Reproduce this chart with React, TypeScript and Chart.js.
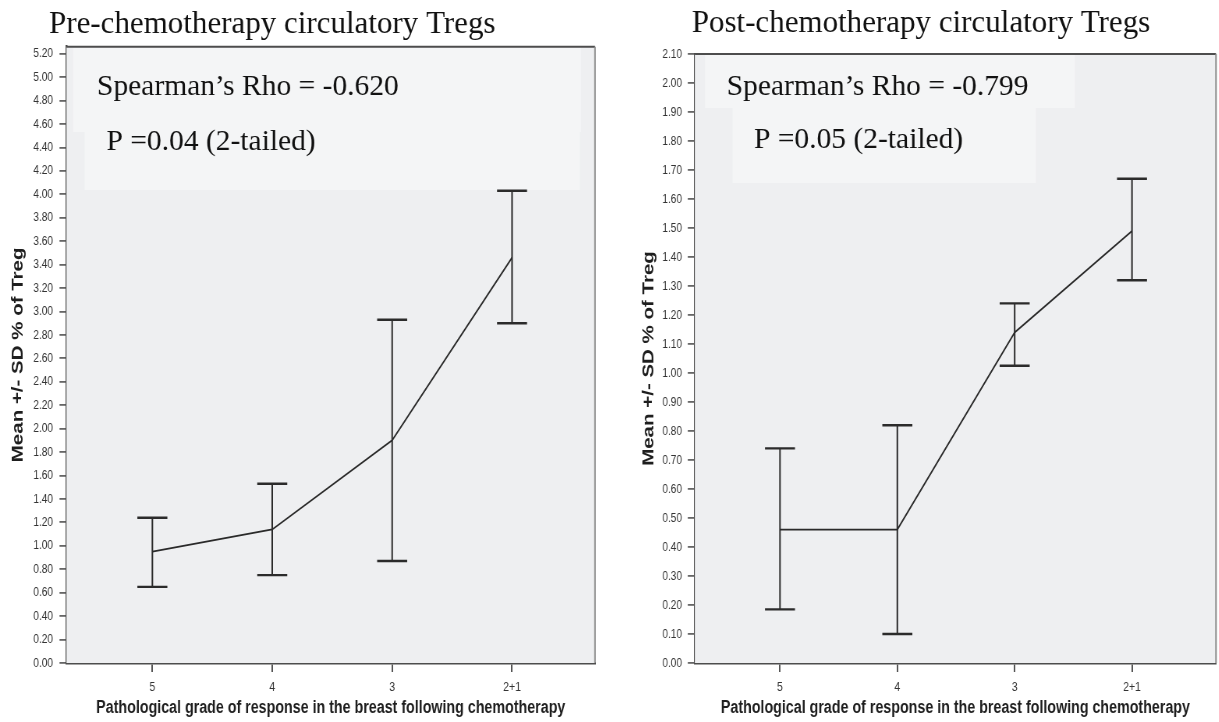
import React, { useEffect, useRef } from "react";
import { Chart, registerables } from "chart.js";

Chart.register(...registerables);

// ---------- data ----------
const categories = ["5", "4", "3", "2+1"];

const preMean = [0.95, 1.14, 1.9, 3.46];
const preUpper = [1.24, 1.53, 2.93, 4.03];
const preLower = [0.65, 0.75, 0.87, 2.9];

const postMean = [0.46, 0.46, 1.14, 1.49];
const postUpper = [0.74, 0.82, 1.24, 1.67];
const postLower = [0.185, 0.1, 1.025, 1.32];

const preTitle = "Pre-chemotherapy circulatory Tregs";
const postTitle = "Post-chemotherapy circulatory Tregs";
const preRho = "Spearman\u2019s Rho = -0.620";
const preP = "P =0.04 (2-tailed)";
const postRho = "Spearman\u2019s Rho = -0.799";
const postP = "P =0.05 (2-tailed)";
const yTitle = "Mean +/- SD % of Treg";
const xTitle = "Pathological grade of response in the breast following chemotherapy";

// ---------- layout ----------
const S = 0.78; // horizontal squeeze of the original plots
const H = 722;
const SANS = "'Liberation Sans', Arial, sans-serif";
const SERIF = "'Liberation Serif', 'Times New Roman', serif";

type Box = { x1: number; y1: number; x2: number; y2: number };
type Note = { text: string; x: number; y: number; size: number };

interface PanelCfg {
  pageLeft: number;
  widthInt: number;
  areaLeftPage: number;
  areaRightPage: number;
  areaTop: number;
  yMax: number;
  yStep: number;
  xMin: number;
  xMax: number;
  yTickPad: number;
  yTitlePad: number;
  mean: number[];
  upper: number[];
  lower: number[];
  notes: Note[];
  boxes: Box[];
}

const leftCfg: PanelCfg = {
  pageLeft: 0,
  widthInt: 770,
  areaLeftPage: 66.5,
  areaRightPage: 595,
  areaTop: 46.7,
  yMax: 5.26,
  yStep: 0.2,
  xMin: -0.716,
  xMax: 3.692,
  yTickPad: 8.3,
  yTitlePad: 11.4,
  mean: preMean,
  upper: preUpper,
  lower: preLower,
  notes: [
    { text: preTitle, x: 49, y: 33, size: 31 },
    { text: preRho, x: 97, y: 95, size: 29.5 },
    { text: preP, x: 106.5, y: 150, size: 29.5 },
  ],
  boxes: [
    { x1: 73, y1: 48, x2: 581, y2: 132 },
    { x1: 84.6, y1: 132, x2: 580, y2: 190 },
  ],
};

const rightCfg: PanelCfg = {
  pageLeft: 605,
  widthInt: 787,
  areaLeftPage: 694.8,
  areaRightPage: 1216,
  areaTop: 54,
  yMax: 2.1,
  yStep: 0.1,
  xMin: -0.726,
  xMax: 3.716,
  yTickPad: 7.4,
  yTitlePad: 44.1,
  mean: postMean,
  upper: postUpper,
  lower: postLower,
  notes: [
    { text: postTitle, x: 691.7, y: 32, size: 31 },
    { text: postRho, x: 726.7, y: 95, size: 29.5 },
    { text: postP, x: 754, y: 147.7, size: 29.5 },
  ],
  boxes: [
    { x1: 705, y1: 55, x2: 1075, y2: 108 },
    { x1: 732.5, y1: 108, x2: 1036, y2: 183 },
  ],
};

function makePlugin(cfg: PanelCfg) {
  const ix = (px: number) => (px - cfg.pageLeft) / S;
  return {
    id: "panelDeco",
    beforeDatasetsDraw(chart: any) {
      const { ctx, chartArea: a } = chart;
      ctx.save();
      ctx.fillStyle = "#eeeff1";
      ctx.fillRect(a.left, a.top, a.right - a.left, a.bottom - a.top);
      ctx.fillStyle = "#f4f5f6";
      for (const b of cfg.boxes) {
        const x1 = ix(b.x1);
        const x2 = ix(b.x2);
        ctx.fillRect(x1, b.y1, x2 - x1, b.y2 - b.y1);
      }
      ctx.restore();
    },
    afterDatasetsDraw(chart: any) {
      const { ctx } = chart;
      const xs = chart.scales.x;
      const ys = chart.scales.y;
      const cap = 15 / S;
      ctx.save();
      ctx.strokeStyle = "#2b2b2b";
      ctx.lineCap = "butt";
      for (let i = 0; i < cfg.mean.length; i++) {
        const px = xs.getPixelForValue(i);
        const yu = ys.getPixelForValue(cfg.upper[i]);
        const yl = ys.getPixelForValue(cfg.lower[i]);
        ctx.lineWidth = 2;
        ctx.beginPath();
        ctx.moveTo(px, yu);
        ctx.lineTo(px, yl);
        ctx.stroke();
        ctx.lineWidth = 2.4;
        ctx.beginPath();
        ctx.moveTo(px - cap, yu);
        ctx.lineTo(px + cap, yu);
        ctx.moveTo(px - cap, yl);
        ctx.lineTo(px + cap, yl);
        ctx.stroke();
      }
      ctx.restore();
    },
    afterDraw(chart: any) {
      const { ctx, chartArea: a } = chart;
      ctx.save();
      // frame top / right
      ctx.strokeStyle = "#4d4d4d";
      ctx.lineWidth = 2;
      ctx.beginPath();
      ctx.moveTo(a.left, a.top);
      ctx.lineTo(a.right, a.top);
      ctx.stroke();
      ctx.strokeStyle = "#8a8a8a";
      ctx.lineWidth = 2;
      ctx.beginPath();
      ctx.moveTo(a.right, a.top);
      ctx.lineTo(a.right, a.bottom);
      ctx.stroke();
      // serif texts (not squeezed)
      ctx.fillStyle = "#111";
      ctx.textAlign = "left";
      ctx.textBaseline = "alphabetic";
      for (const n of cfg.notes) {
        ctx.save();
        ctx.translate(ix(n.x), n.y);
        ctx.scale(1 / S, 1);
        ctx.font = `${n.size}px ${SERIF}`;
        ctx.fillText(n.text, 0, 0);
        ctx.restore();
      }
      ctx.restore();
    },
  };
}

function Panel({ cfg }: { cfg: PanelCfg }) {
  const ref = useRef<HTMLCanvasElement>(null);
  useEffect(() => {
    const areaLeftInt = (cfg.areaLeftPage - cfg.pageLeft) / S;
    const rightPad = cfg.widthInt - (cfg.areaRightPage - cfg.pageLeft) / S;
    const chart = new Chart(ref.current as HTMLCanvasElement, {
      type: "line",
      data: {
        datasets: [
          {
            data: cfg.mean.map((v, i) => ({ x: i, y: v })),
            borderColor: "#2a2a2a",
            borderWidth: 1.8,
            pointRadius: 0,
            tension: 0,
            fill: false,
          },
        ],
      },
      options: {
        animation: false,
        responsive: true,
        maintainAspectRatio: false,
        layout: { padding: { left: 0, right: rightPad, top: cfg.areaTop, bottom: 0 } },
        plugins: { legend: { display: false }, tooltip: { enabled: false } },
        scales: {
          x: {
            type: "linear",
            min: cfg.xMin,
            max: cfg.xMax,
            afterBuildTicks: (scale: any) => {
              scale.ticks = categories.map((_, i) => ({ value: i }));
            },
            afterFit: (scale: any) => {
              scale.height = H - 663;
            },
            ticks: {
              callback: (v: any) => categories[Math.round(Number(v))] ?? "",
              font: { family: SANS, size: 13.5 },
              color: "#333",
              padding: 7,
              maxRotation: 0,
              autoSkip: false,
            },
            grid: {
              drawOnChartArea: false,
              drawTicks: true,
              tickLength: 9,
              color: "#555",
              lineWidth: 2,
            },
            border: { display: true, color: "#4d4d4d", width: 2.5 },
            title: {
              display: true,
              text: xTitle,
              font: { family: SANS, size: 18.3, weight: "bold" },
              color: "#1e1e1e",
              padding: { top: 0, bottom: 3.2 },
            },
          },
          y: {
            type: "linear",
            min: 0,
            max: cfg.yMax,
            afterFit: (scale: any) => {
              scale.width = areaLeftInt;
            },
            ticks: {
              stepSize: cfg.yStep,
              maxTicksLimit: 100,
              includeBounds: false,
              autoSkip: false,
              callback: (v: any) => Number(v).toFixed(2),
              font: { family: SANS, size: 13 },
              color: "#333",
              padding: cfg.yTickPad,
            },
            grid: {
              drawOnChartArea: false,
              drawTicks: true,
              tickLength: 9,
              color: "#666",
              lineWidth: 1.8,
            },
            border: { display: true, color: "#4d4d4d", width: 2.5 },
            title: {
              display: true,
              text: yTitle,
              font: { family: SANS, size: 20.5, weight: "bold" },
              color: "#1e1e1e",
              padding: { top: cfg.yTitlePad, bottom: 0 },
            },
          },
        },
      },
      plugins: [makePlugin(cfg)],
    } as any);
    return () => chart.destroy();
  }, [cfg]);
  return (
    <div
      style={{
        position: "absolute",
        left: cfg.pageLeft,
        top: 0,
        width: cfg.widthInt,
        height: H,
        transform: `scaleX(${S})`,
        transformOrigin: "0 0",
      }}
    >
      <canvas ref={ref} />
    </div>
  );
}

export default function App() {
  return (
    <div
      style={{
        position: "absolute",
        left: 0,
        top: 0,
        width: 1219,
        height: H,
        overflow: "hidden",
        background: "#fff",
      }}
    >
      <Panel cfg={leftCfg} />
      <Panel cfg={rightCfg} />
    </div>
  );
}
